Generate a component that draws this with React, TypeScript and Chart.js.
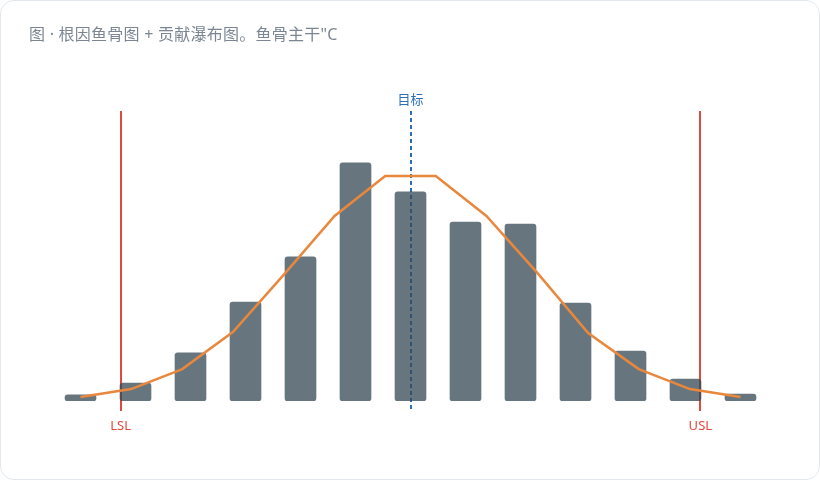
import React, { useEffect, useRef } from 'react';
import { Chart, registerables } from 'chart.js';

Chart.register(...registerables);

// histogram bins (bin index as x) and their counts
const binCenters: number[] = [0, 1, 2, 3, 4, 5, 6, 7, 8, 9, 10, 11, 12];
const binCounts: number[] = [2.1, 6.2, 16.6, 34.1, 49.7, 82.1, 72.1, 61.7, 61.0, 33.8, 17.2, 7.6, 2.4];

// fitted curve samples
const curveX: number[] = [0, 0.92, 1.85, 2.77, 3.69, 4.62, 5.54, 6.46, 7.38, 8.31, 9.23, 10.15, 11.08, 12];
const curveY: number[] = [1.4, 4.1, 11.0, 23.8, 43.4, 63.8, 77.6, 77.6, 63.8, 44.1, 23.4, 11.0, 4.1, 1.4];

// spec limits and target
const LSL = 0.73;
const USL = 11.27;
const TARGET = 6;

const specPlugin = {
    id: 'specLines',
    beforeDatasetsDraw(chart: any) {
        const { ctx, chartArea, scales } = chart;
        const x = scales.x;
        const top = chartArea.top;
        const bottom = chartArea.bottom + 10;
        ctx.save();
        // LSL / USL
        ctx.strokeStyle = '#e04a3c';
        ctx.lineWidth = 2;
        [LSL, USL].forEach((v) => {
            const px = Math.round(x.getPixelForValue(v));
            ctx.beginPath();
            ctx.moveTo(px, top);
            ctx.lineTo(px, bottom);
            ctx.stroke();
        });
        // target
        ctx.strokeStyle = '#2c6fb5';
        ctx.setLineDash([4, 3]);
        const tx = Math.round(x.getPixelForValue(TARGET));
        ctx.beginPath();
        ctx.moveTo(tx, top);
        ctx.lineTo(tx, bottom);
        ctx.stroke();
        ctx.restore();
    },
    afterDatasetsDraw(chart: any) {
        const { ctx, chartArea, scales } = chart;
        const x = scales.x;
        ctx.save();
        ctx.font = '13px "Noto Sans", "Noto Sans CJK SC", sans-serif';
        ctx.textAlign = 'center';
        ctx.textBaseline = 'middle';
        ctx.fillStyle = '#2c6fb5';
        ctx.fillText('目标', x.getPixelForValue(TARGET), chartArea.top - 11);
        ctx.fillStyle = '#e04a3c';
        ctx.fillText('LSL', x.getPixelForValue(LSL), chartArea.bottom + 25);
        ctx.fillText('USL', x.getPixelForValue(USL), chartArea.bottom + 25);
        ctx.restore();
    },
};

const HistogramChart: React.FC = () => {
    const canvasRef = useRef<HTMLCanvasElement | null>(null);
    const chartRef = useRef<Chart | null>(null);

    useEffect(() => {
        if (!canvasRef.current) return;
        if (chartRef.current) chartRef.current.destroy();

        chartRef.current = new Chart(canvasRef.current, {
            type: 'bar',
            data: {
                datasets: [
                    {
                        type: 'line',
                        label: '拟合曲线',
                        data: curveX.map((v, i) => ({ x: v, y: curveY[i] })),
                        borderColor: '#e9873c',
                        borderWidth: 2.5,
                        pointRadius: 0,
                        tension: 0,
                        fill: false,
                    },
                    {
                        type: 'bar',
                        label: '频数',
                        data: binCenters.map((v, i) => ({ x: v, y: binCounts[i] })),
                        backgroundColor: 'rgba(52, 72, 83, 0.75)',
                        borderRadius: 3,
                        borderSkipped: false,
                        barThickness: 31,
                    },
                ],
            } as any,
            options: {
                animation: false,
                responsive: true,
                maintainAspectRatio: false,
                layout: {
                    padding: { left: 52, right: 53, top: 110, bottom: 80 },
                },
                plugins: {
                    legend: { display: false },
                    tooltip: { enabled: false },
                },
                scales: {
                    x: { type: 'linear', min: -0.5, max: 12.5, offset: false, display: false },
                    y: { min: 0, max: 100, display: false },
                },
            },
            plugins: [specPlugin],
        });

        return () => {
            if (chartRef.current) {
                chartRef.current.destroy();
                chartRef.current = null;
            }
        };
    }, []);

    return (
        <div style={{ position: 'absolute', left: 0, top: 0, width: 820, height: 480 }}>
            <canvas ref={canvasRef} />
        </div>
    );
};

export default function App() {
    return (
        <div
            style={{
                position: 'fixed',
                left: 0,
                top: 0,
                width: 820,
                height: 480,
                boxSizing: 'border-box',
                border: '1px solid #e3e8ee',
                borderRadius: 14,
                background: '#ffffff',
                overflow: 'hidden',
                fontFamily: '"Noto Sans", "Noto Sans CJK SC", sans-serif',
            }}
        >
            <div
                style={{
                    position: 'absolute',
                    left: 28,
                    top: 24,
                    fontSize: 16,
                    lineHeight: '18px',
                    letterSpacing: '0.25px',
                    color: '#7c8693',
                    whiteSpace: 'nowrap',
                    zIndex: 1,
                }}
            >
                图 · 根因鱼骨图 + 贡献瀑布图。鱼骨主干"C
            </div>
            <HistogramChart />
        </div>
    );
}
